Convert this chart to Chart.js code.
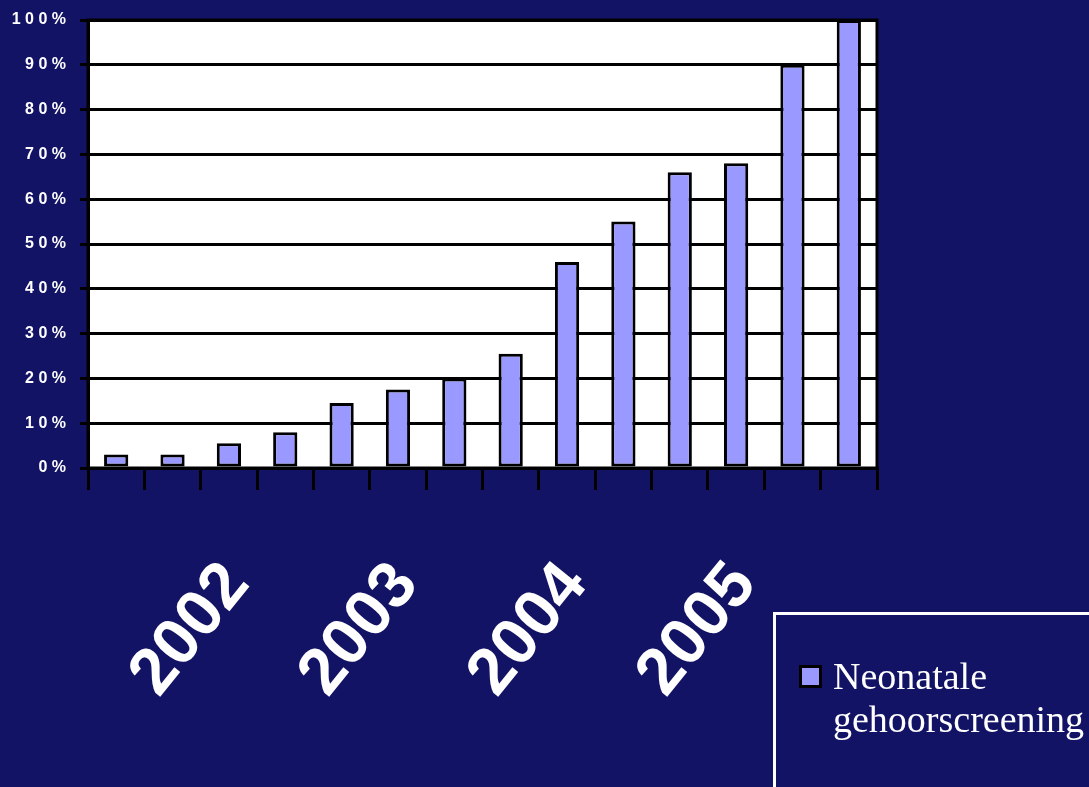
<!DOCTYPE html>
<html>
<head>
<meta charset="utf-8">
<script src="https://cdn.jsdelivr.net/npm/chart.js@4.4.1/dist/chart.umd.min.js"></script>
<style>
    html, body { margin: 0; padding: 0; background: #131366; }
    body { width: 1089px; height: 787px; position: relative; overflow: hidden; }
    #wrap { position: absolute; left: 0; top: 0; width: 1089px; height: 787px; }
    #legendBox {
        position: absolute; left: 773px; top: 612px; width: 340px; height: 200px;
        border: 3px solid #fff; box-sizing: border-box;
    }
    .legend-swatch {
        position: absolute; left: 799px; top: 665px; width: 23px; height: 23px;
        background: #9999ff; border: 3px solid #000; box-sizing: border-box;
    }
    .legend-text {
        position: absolute; left: 833px; top: 655px; color: #fff;
        font-family: 'Liberation Serif', 'Times New Roman', serif; font-size: 38px; line-height: 43px;
        white-space: nowrap;
    }
</style>
</head>
<body>
<div id="wrap"><canvas id="screeningChart" width="1089" height="787"></canvas></div>
<div id="legendBox"></div>
<div class="legend-swatch"></div>
<div class="legend-text" id="legendText">Neonatale<br>gehoorscreening</div>
<script>
// Data
const categories = ['', '', '2002', '', '', '2003', '', '', '2004', '', '', '2005', '', ''];
const screeningPct = [3, 3, 5.5, 8, 14.5, 17.5, 20, 25.5, 46, 55, 66, 68, 90, 100];
const yTickLabels = ['0%', '10%', '20%', '30%', '40%', '50%', '60%', '70%', '80%', '90%', '100%'];
const seriesName = 'Neonatale gehoorscreening';

// white plot area + black frame
const plotFrame = {
    id: 'plotFrame',
    beforeDraw(chart) {
        const { ctx, chartArea: a } = chart;
        ctx.save();
        ctx.fillStyle = '#ffffff';
        ctx.fillRect(a.left, a.top, a.width, a.height);
        ctx.restore();
    },
    afterDraw(chart) {
        const { ctx, chartArea: a } = chart;
        ctx.save();
        ctx.strokeStyle = '#000';
        ctx.lineWidth = 3;
        ctx.strokeRect(a.left, a.top, a.width, a.height);
        ctx.restore();
    }
};

new Chart(document.getElementById('screeningChart'), {
    type: 'bar',
    data: {
        labels: categories,
        datasets: [{
            label: seriesName,
            data: screeningPct,
            backgroundColor: '#9999ff',
            borderColor: '#000',
            borderWidth: 3,
            borderSkipped: false,
            categoryPercentage: 1,
            barPercentage: 0.43
        }]
    },
    options: {
        responsive: false,
        animation: false,
        devicePixelRatio: 1,
        layout: { padding: { top: 20, right: 212, left: 0, bottom: 0 } },
        plugins: {
            legend: { display: false },
            tooltip: { enabled: false }
        },
        scales: {
            x: {
                afterFit: (scale) => { scale.height = 319; },
                grid: {
                    display: true,
                    drawOnChartArea: false,
                    drawTicks: true,
                    tickLength: 22,
                    color: '#000',
                    lineWidth: 3,
                    offset: true
                },
                border: { display: true, color: '#000', width: 3 },
                ticks: {
                    autoSkip: false,
                    maxRotation: 51,
                    minRotation: 51,
                    padding: 58,
                    labelOffset: 8,
                    color: '#fff',
                    font: { family: "'Liberation Sans', Arial, sans-serif", size: 66, weight: 'bold' }
                }
            },
            y: {
                min: 0,
                max: 100,
                afterFit: (scale) => {
                    scale.width = 88;
                    scale.paddingTop = 0;
                    scale.paddingBottom = 0;
                },
                grid: { color: '#000', lineWidth: 3, tickLength: 8 },
                border: { display: true, color: '#000', width: 3 },
                ticks: {
                    stepSize: 10,
                    padding: 14,
                    color: '#fff',
                    font: { family: "'Liberation Sans', Arial, sans-serif", size: 16, weight: 'bold' },
                    callback: (v, i) => yTickLabels[i].split('').join(' ')
                }
            }
        }
    },
    plugins: [plotFrame]
});
</script>
</body>
</html>
